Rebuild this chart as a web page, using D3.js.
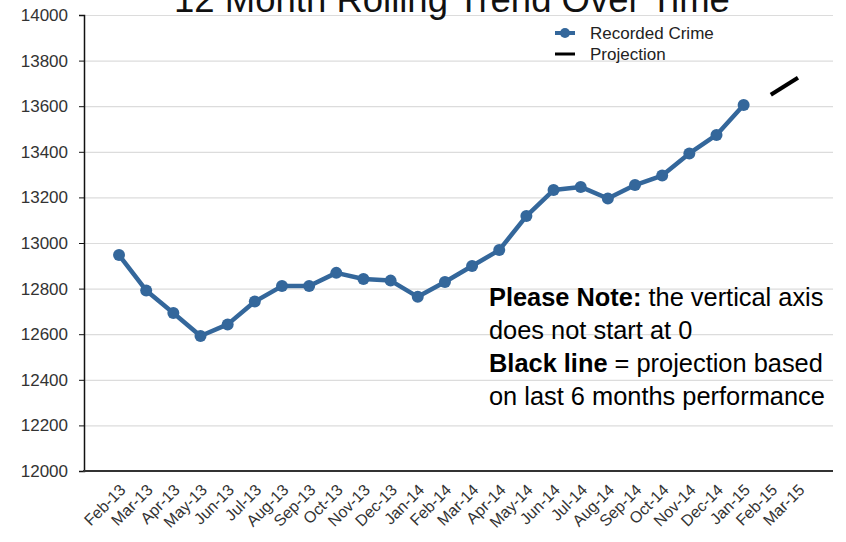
<!DOCTYPE html>
<html>
<head>
<meta charset="utf-8">
<script src="https://cdn.jsdelivr.net/npm/d3@7"></script>
<style>
  html, body { margin: 0; padding: 0; background: #fff; }
  svg { display: block; font-family: Arial, "Liberation Sans", sans-serif; }
</style>
</head>
<body>
<svg id="chart" width="846" height="542"></svg>
<script>
const months = ["Feb-13","Mar-13","Apr-13","May-13","Jun-13","Jul-13","Aug-13","Sep-13","Oct-13","Nov-13","Dec-13","Jan-14","Feb-14","Mar-14","Apr-14","May-14","Jun-14","Jul-14","Aug-14","Sep-14","Oct-14","Nov-14","Dec-14","Jan-15","Feb-15","Mar-15"];
const recordedMonths = months.slice(0, 24);
const recordedCrime = [12947,12792,12693,12592,12643,12743,12811,12811,12869,12842,12835,12764,12829,12899,12969,13118,13232,13246,13195,13254,13296,13393,13474,13605];
const projectionMonths = ["Feb-15","Mar-15"];
const projection = [13650, 13725];
const yTicks = [12000,12200,12400,12600,12800,13000,13200,13400,13600,13800,14000];
const title = "12 Month Rolling Trend Over Time";
const legendLabels = ["Recorded Crime", "Projection"];
const noteLines = [
  [{t:"Please Note:", b:true},{t:" the vertical axis", b:false}],
  [{t:"does not start at 0", b:false}],
  [{t:"Black line", b:true},{t:" = projection based", b:false}],
  [{t:"on last 6 months performance", b:false}]
];

(function () {
const svg = d3.select("#chart");
const pLeft = 84, pRight = 833, pTop = 15, pBottom = 471;
const blue = "#34679b";

const x = d3.scalePoint().domain(months).range([pLeft, pRight]).padding(1.29);
const y = d3.scaleLinear().domain([12000, 14000]).range([pBottom, pTop]);

// gridlines
svg.append("g")
  .attr("transform", `translate(${pLeft},0)`)
  .call(d3.axisLeft(y).tickValues(yTicks).tickSize(-(pRight - pLeft)).tickFormat(""))
  .call(g => g.select(".domain").remove())
  .call(g => g.selectAll("line").attr("stroke", "#dcdcdc").attr("stroke-width", 1.2));

// y axis
svg.append("g")
  .attr("transform", `translate(${pLeft},0)`)
  .call(d3.axisLeft(y).tickValues(yTicks).tickSize(5).tickPadding(11).tickFormat(d3.format("d")))
  .call(g => g.select(".domain").attr("stroke", "#111").attr("stroke-width", 1.5))
  .call(g => g.selectAll("line").attr("stroke", "#111"))
  .call(g => g.selectAll("text").attr("font-size", 17).attr("fill", "#333")
      .attr("font-family", "Arial, 'Liberation Sans', sans-serif"));

// x axis
svg.append("g")
  .attr("transform", `translate(0,${pBottom})`)
  .call(d3.axisBottom(x).tickSize(0).tickPadding(0).tickSizeOuter(0))
  .call(g => g.select(".domain").attr("d", `M${pLeft - 1},0H${pRight}`).attr("stroke", "#333").attr("stroke-width", 2))
  .call(g => g.selectAll("text")
      .attr("font-size", 16).attr("fill", "#333")
      .attr("font-family", "Arial, 'Liberation Sans', sans-serif")
      .attr("text-anchor", "end")
      .attr("dy", 0)
      .attr("y", 0)
      .attr("transform", "translate(7,20) rotate(-45)"));

// recorded crime line
const line = d3.line().x(d => x(d[0])).y(d => y(d[1]));
const recData = recordedMonths.map((m, i) => [m, recordedCrime[i]]);
svg.append("path")
  .datum(recData)
  .attr("d", line)
  .attr("fill", "none")
  .attr("stroke", blue)
  .attr("stroke-width", 4.5)
  .attr("stroke-linejoin", "round");
svg.append("g").selectAll("circle")
  .data(recData).join("circle")
  .attr("cx", d => x(d[0])).attr("cy", d => y(d[1]))
  .attr("r", 6).attr("fill", blue);

// projection line
const projData = projectionMonths.map((m, i) => [m, projection[i]]);
svg.append("path")
  .datum(projData)
  .attr("d", line)
  .attr("fill", "none")
  .attr("stroke", "#000")
  .attr("stroke-width", 4);

// title
svg.append("text")
  .attr("x", 452).attr("y", 12)
  .attr("text-anchor", "middle")
  .attr("font-size", 36.5)
  .attr("fill", "#111")
  .text(title);

// legend
const lg = svg.append("g");
lg.append("line").attr("x1", 555).attr("x2", 575).attr("y1", 33).attr("y2", 33)
  .attr("stroke", blue).attr("stroke-width", 4);
lg.append("circle").attr("cx", 565).attr("cy", 33).attr("r", 5).attr("fill", blue);
lg.append("line").attr("x1", 555).attr("x2", 575).attr("y1", 54).attr("y2", 54)
  .attr("stroke", "#000").attr("stroke-width", 3);
lg.selectAll("text").data(legendLabels).join("text")
  .attr("x", 590).attr("y", (d, i) => 39 + i * 21)
  .attr("font-size", 17).attr("fill", "#222")
  .text(d => d);

// note
const note = svg.append("g");
noteLines.forEach((parts, i) => {
  const t = note.append("text")
    .attr("x", 489).attr("y", 306 + i * 33)
    .attr("font-size", 25.4).attr("fill", "#000");
  parts.forEach(p => t.append("tspan").attr("font-weight", p.b ? "bold" : "normal").text(p.t));
});
})();
</script>
</body>
</html>
